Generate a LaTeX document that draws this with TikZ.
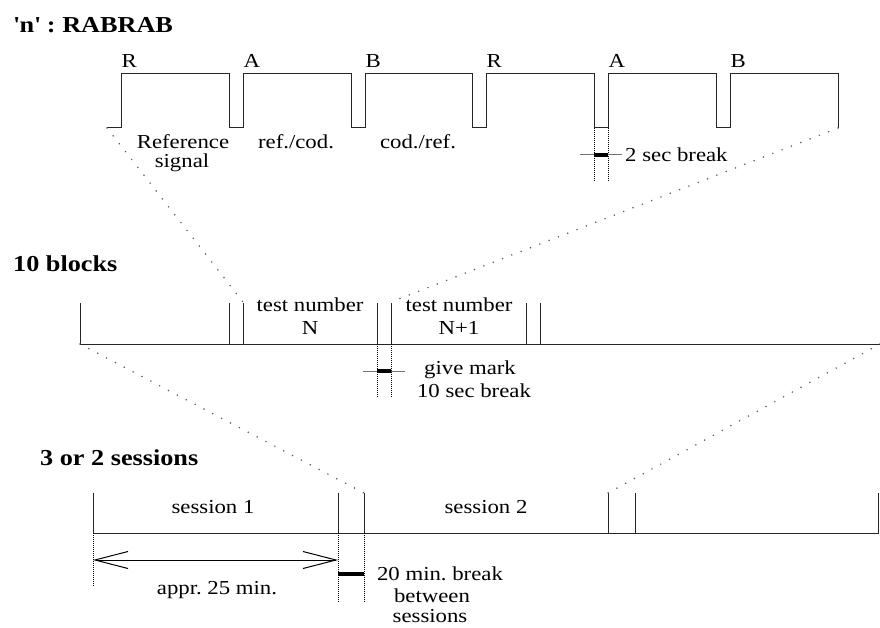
\documentclass[tikz,border=0pt]{standalone}
\usepackage{fontspec}
\setmainfont[FakeStretch=1.15]{Liberation Serif}
\usetikzlibrary{arrows.meta}
\frenchspacing

\begin{document}
\begin{tikzpicture}[x=1pt,y=-1pt,
  lbl/.style={inner sep=0pt, anchor=base, font=\fontsize{19.8}{23}\selectfont},
  lblw/.style={lbl, anchor=base west},
  heading/.style={inner sep=0pt, anchor=base west, font=\fontsize{22.8}{26}\selectfont\bfseries},
  trace/.style={line width=1pt, line join=miter, black!85},
  zoomline/.style={black!65, line width=1.7pt, dash pattern=on 0pt off 10pt, line cap=round},
  guide/.style={line width=0.8pt, dash pattern=on 1pt off 1pt},
  stub/.style={line width=1pt, black!55},
  pause/.style={line width=4.7pt, black},
  span/.style={line width=1pt, {Straight Barb[length=33pt,width=17pt]}-{Straight Barb[length=33pt,width=17pt]}}
]
\useasboundingbox (0,0) rectangle (880,628);

% ---------------- headings ----------------
\node[heading] (h1) at (13,33) {\textquotesingle n\textquotesingle\ : RABRAB};
\node[heading] (h2) at (13,272) {10 blocks};
\node[heading] (h3) at (40,465) {3 or 2 sessions};

% ---------------- one test: R A B R A B ----------------
\coordinate (tA) at (107,128);
\coordinate (tB) at (838,128);
\draw[trace] (tA) -- (121,128) -- (121,74) -- (229,74) -- (229,128) -- (243,128)
  -- (243,74) -- (351,74) -- (351,128) -- (365,128) -- (365,74) -- (472,74)
  -- (472,128) -- (486,128) -- (486,74) -- (594,74) -- (594,128) -- (608,128)
  -- (608,74) -- (716,74) -- (716,128) -- (730,128) -- (730,74) -- (838,74) -- (tB);

\node[lblw] (r1) at (121.5,68) {R};
\node[lblw] (a1) at (243.5,68) {A};
\node[lblw] (b1) at (365.5,68) {B};
\node[lblw] (r2) at (486.5,68) {R};
\node[lblw] (a2) at (608.5,68) {A};
\node[lblw] (b2) at (730.5,68) {B};

\node[lbl] (ref1) at (183,149) {Reference};
\node[lbl] (ref2) at (182,168) {signal};
\node[lbl] (rc) at (296,149) {ref./cod.};
\node[lbl] (cr) at (418,149) {cod./ref.};

% 2 sec break marker
\coordinate (p1a) at (594,128); \coordinate (p1b) at (594,181);
\coordinate (p2a) at (608,128); \coordinate (p2b) at (608,181);
\draw[guide] (p1a) -- (p1b);
\draw[guide] (p2a) -- (p2b);
\coordinate (s1a) at (580,155); \coordinate (s1b) at (622,155);
\draw[stub] (s1a) -- (s1b);
\draw[pause] (594,155) -- (608,155);
\node[lblw] (brk2) at (625,162) {2 sec break};

% ---------------- 10 blocks ----------------
\coordinate (mA) at (243,302);
\coordinate (mB) at (391,302);
\coordinate (mL) at (80,344);
\coordinate (mR) at (880,344);
\draw[trace] (80,303) -- (mL) -- (mR);
\foreach \x in {229,243,377,391,526,540}
  \draw[trace] (\x,303) -- (\x,344);

\node[lbl] (tn1) at (310,311) {test number};
\node[lbl] (tn2) at (310,334) {N};
\node[lbl] (tn3) at (459,311) {test number};
\node[lbl] (tn4) at (459,334) {N+1};

% 10 sec break marker
\draw[guide] (377,344) -- (377,397);
\draw[guide] (391,344) -- (391,397);
\coordinate (s2a) at (363,371); \coordinate (s2b) at (405,371);
\draw[stub] (s2a) -- (s2b);
\draw[pause] (377,371) -- (391,371);
\node[lbl] (gm) at (470,374) {give mark};
\node[lbl] (brk10) at (474,397) {10 sec break};

% zoom lines from the test to the block row
\draw[zoomline] (tA) -- (mA);
\draw[zoomline] (tB) -- (mB);

% ---------------- sessions ----------------
\coordinate (bA) at (364,493);
\coordinate (bB) at (608,493);
\coordinate (bL) at (93,533);
\coordinate (bR) at (878,533);
\draw[trace] (93,493) -- (bL) -- (bR) -- (878,493);
\foreach \x in {338,364,608,635}
  \draw[trace] (\x,493) -- (\x,533);

\node[lbl] (se1) at (213,513) {session 1};
\node[lbl] (se2) at (486,513) {session 2};

% zoom lines from the block row to the sessions
\draw[zoomline] (mL) -- (bA);
\draw[zoomline] (mR) -- (bB);

% duration of one session
\draw[guide] (bL) -- (93,587);
\draw[guide] (338,533) -- (338,602);
\draw[guide] (364,533) -- (364,602);
\coordinate (d1) at (93,560); \coordinate (d2) at (338,560);
\draw[span] (d1) -- (d2);
\node[lbl] (dur) at (217,594) {appr. 25 min.};

% 20 min. break marker
\draw[pause] (338,574) -- (364,574);
\node[lbl] (b20a) at (440,580) {20 min. break};
\node[lbl] (b20b) at (432,602) {between};
\node[lbl] (b20c) at (430,622) {sessions};
\end{tikzpicture}
\end{document}
